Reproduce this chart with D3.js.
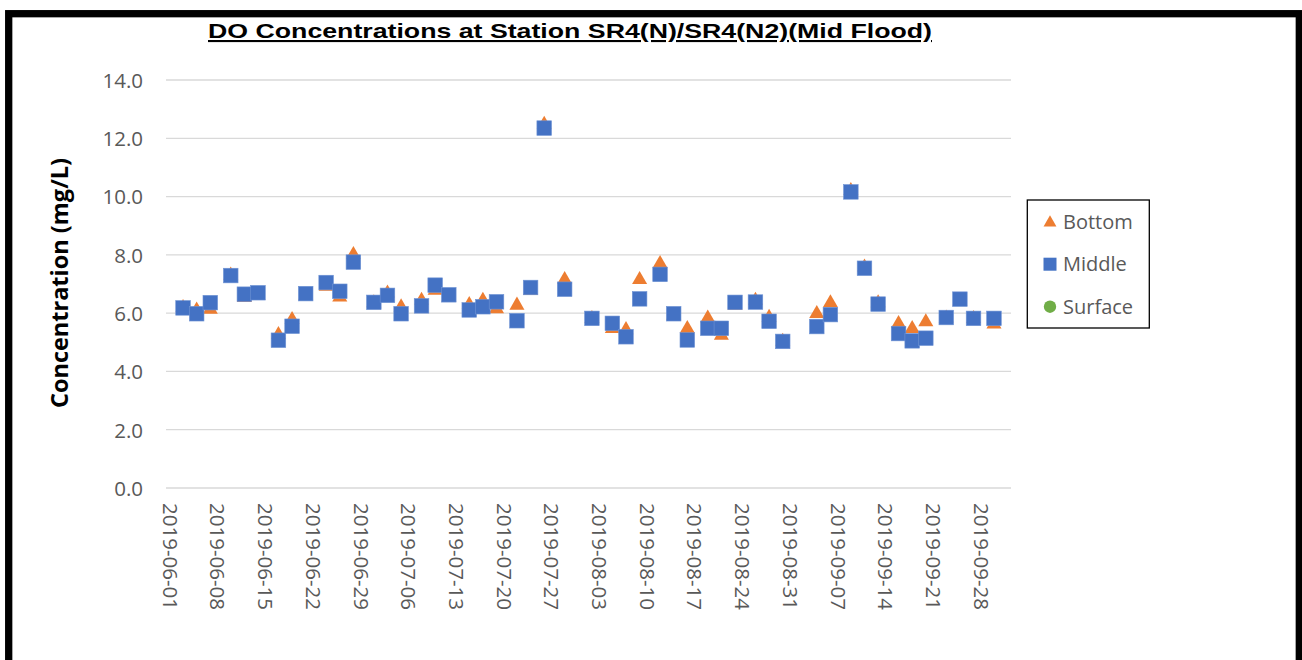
<!DOCTYPE html>
<html>
<head>
<meta charset="utf-8">
<script src="https://cdn.jsdelivr.net/npm/d3@7"></script>
<style>
  body { margin: 0; background: #fff; }
  svg { display: block; }
</style>
</head>
<body>
<div id="chart"></div>
<script>
'use strict';

var sampleDates = ['2019-06-03', '2019-06-05', '2019-06-07', '2019-06-10', '2019-06-12', '2019-06-14',
                   '2019-06-17', '2019-06-19', '2019-06-21', '2019-06-24', '2019-06-26', '2019-06-28',
                   '2019-07-01', '2019-07-03', '2019-07-05', '2019-07-08', '2019-07-10', '2019-07-12',
                   '2019-07-15', '2019-07-17', '2019-07-19', '2019-07-22', '2019-07-24', '2019-07-26',
                   '2019-07-29', '2019-08-02', '2019-08-05', '2019-08-07', '2019-08-09', '2019-08-12',
                   '2019-08-14', '2019-08-16', '2019-08-19', '2019-08-21', '2019-08-23', '2019-08-26',
                   '2019-08-28', '2019-08-30', '2019-09-04', '2019-09-06', '2019-09-09', '2019-09-11',
                   '2019-09-13', '2019-09-16', '2019-09-18', '2019-09-20', '2019-09-23', '2019-09-25',
                   '2019-09-27', '2019-09-30'];

var bottomValues = [6.23, 6.14, 6.17, 7.34, 6.57, 6.65, 5.30, 5.82, 6.65, 6.96, 6.59, 8.05,
                    6.39, 6.73, 6.25, 6.48, 6.82, 6.59, 6.33, 6.48, 6.19, 6.31, 6.82, 12.52,
                    7.19, 5.85, 5.51, 5.47, 7.19, 7.74, 5.96, 5.51, 5.87, 5.28, 6.31, 6.48,
                    5.89, 5.07, 6.02, 6.39, 10.24, 7.62, 6.39, 5.68, 5.51, 5.74, 5.87, 6.45,
                    5.85, 5.66];

var middleValues = [6.18, 5.98, 6.36, 7.29, 6.65, 6.70, 5.07, 5.55, 6.67, 7.05, 6.75, 7.75,
                    6.37, 6.61, 5.98, 6.25, 6.96, 6.63, 6.11, 6.22, 6.39, 5.74, 6.88, 12.35,
                    6.82, 5.82, 5.65, 5.19, 6.49, 7.33, 5.98, 5.08, 5.48, 5.48, 6.37, 6.38,
                    5.72, 5.03, 5.54, 5.95, 10.16, 7.54, 6.31, 5.30, 5.05, 5.14, 5.85, 6.48,
                    5.82, 5.82];

var surfaceValues = [];

var xTickLabels = ['2019-06-01', '2019-06-08', '2019-06-15', '2019-06-22', '2019-06-29', '2019-07-06',
                   '2019-07-13', '2019-07-20', '2019-07-27', '2019-08-03', '2019-08-10', '2019-08-17',
                   '2019-08-24', '2019-08-31', '2019-09-07', '2019-09-14', '2019-09-21', '2019-09-28'];

var yTicks = [0, 2, 4, 6, 8, 10, 12, 14];

var seriesNames = ['Bottom', 'Middle', 'Surface'];

var w = 1302;
var h = 660;
var plot = { left: 166, right: 1011, top: 80, bottom: 488 };

var parseDate = d3.utcParse('%Y-%m-%d');
var fontFamily = '"Open Sans", "Liberation Sans", sans-serif';
var labelColor = '#595959';
var colors = { Bottom: '#ED7D31', Middle: '#4472C4', Surface: '#70AD47' };

var svg = d3.select('#chart').append('svg')
  .attr('width', w)
  .attr('height', h);

/* Outer border */

svg.append('rect')
  .attr('x', 8.7)
  .attr('y', 13.7)
  .attr('width', 1290.6)
  .attr('height', 700)
  .style('fill', 'white')
  .style('stroke', 'black')
  .style('stroke-width', 7.3);

/* Scales */

var x = d3.scaleUtc()
  .domain([new Date(Date.UTC(2019, 4, 31, 12)), new Date(Date.UTC(2019, 9, 2, 12))])
  .range([plot.left, plot.right]);

var y = d3.scaleLinear()
  .domain([0, 14])
  .range([plot.bottom, plot.top]);

/* Gridlines */

svg.append('g')
  .selectAll('line')
  .data(yTicks)
  .enter()
  .append('line')
  .attr('x1', plot.left)
  .attr('x2', plot.right)
  .attr('y1', function (d) { return y(d); })
  .attr('y2', function (d) { return y(d); })
  .style('stroke', '#D9D9D9')
  .style('stroke-width', 1.3);

/* Y axis labels */

var yAxis = d3.axisLeft(y)
  .tickValues(yTicks)
  .tickSize(0)
  .tickPadding(23)
  .tickFormat(d3.format('.1f'));

var yAxisG = svg.append('g')
  .attr('transform', 'translate(' + plot.left + ',0)')
  .call(yAxis);

yAxisG.select('.domain').remove();
yAxisG.selectAll('text')
  .attr('font-family', fontFamily)
  .attr('font-size', '20.5px')
  .attr('fill', labelColor)
  .attr('dy', '0.36em');

/* X axis labels */

var xAxis = d3.axisBottom(x)
  .tickValues(xTickLabels.map(parseDate))
  .tickSize(0)
  .tickFormat(d3.utcFormat('%Y-%m-%d'));

var xAxisG = svg.append('g')
  .attr('transform', 'translate(0,' + plot.bottom + ')')
  .call(xAxis);

xAxisG.select('.domain').remove();
xAxisG.selectAll('text')
  .attr('font-family', fontFamily)
  .attr('font-size', '20.5px')
  .attr('fill', labelColor)
  .attr('y', 0)
  .attr('dy', '0.35em')
  .attr('text-anchor', 'start')
  .attr('transform', 'translate(0,15) rotate(90)');

/* Markers */

var triangle = d3.symbol().type(d3.symbolTriangle).size(98);

function rows(values) {
  return values.map(function (v, i) { return { date: parseDate(sampleDates[i]), value: v }; });
}

svg.append('g')
  .selectAll('path')
  .data(rows(bottomValues))
  .enter()
  .append('path')
  .attr('d', triangle)
  .attr('transform', function (d) { return 'translate(' + x(d.date) + ',' + (y(d.value) + 1.2) + ')'; })
  .style('fill', colors.Bottom);

svg.append('g')
  .selectAll('rect')
  .data(rows(middleValues))
  .enter()
  .append('rect')
  .attr('x', function (d) { return x(d.date) - 7.3; })
  .attr('y', function (d) { return y(d.value) - 7.3; })
  .attr('width', 14.6)
  .attr('height', 14.6)
  .style('fill', colors.Middle)
  .style('stroke', '#6F93D4')
  .style('stroke-width', 0.6);

svg.append('g')
  .selectAll('circle')
  .data(rows(surfaceValues))
  .enter()
  .append('circle')
  .attr('cx', function (d) { return x(d.date); })
  .attr('cy', function (d) { return y(d.value); })
  .attr('r', 6)
  .style('fill', colors.Surface);

/* Title */

svg.append('text')
  .text('DO Concentrations at Station SR4(N)/SR4(N2)(Mid Flood)')
  .attr('x', 570)
  .attr('y', 38)
  .attr('text-anchor', 'middle')
  .attr('font-family', '"Liberation Sans", Arial, sans-serif')
  .attr('font-weight', 'bold')
  .attr('font-size', '21px')
  .attr('text-decoration', 'underline')
  .attr('textLength', 724)
  .attr('lengthAdjust', 'spacingAndGlyphs')
  .attr('fill', 'black');

/* Y axis title */

svg.append('text')
  .text('Concentration (mg/L)')
  .attr('transform', 'translate(68,283) rotate(-90)')
  .attr('text-anchor', 'middle')
  .attr('font-family', fontFamily)
  .attr('font-weight', 'bold')
  .attr('font-size', '23.5px')
  .attr('fill', 'black');

/* Legend */

svg.append('rect')
  .attr('x', 1027.3)
  .attr('y', 200)
  .attr('width', 122)
  .attr('height', 128)
  .style('fill', 'white')
  .style('stroke', 'black')
  .style('stroke-width', 1.3);

var legendY = d3.scalePoint()
  .domain(seriesNames)
  .range([221.7, 306.7]);

var legend = svg.append('g')
  .selectAll('g')
  .data(seriesNames)
  .enter()
  .append('g')
  .attr('transform', function (d) { return 'translate(1050,' + legendY(d) + ')'; });

legend.each(function (d) {
  var g = d3.select(this);
  if (d === 'Bottom') {
    g.append('path')
      .attr('d', d3.symbol().type(d3.symbolTriangle).size(72))
      .attr('transform', 'translate(0,1)')
      .style('fill', colors.Bottom);
  } else if (d === 'Middle') {
    g.append('rect')
      .attr('x', -6.5).attr('y', -6.5)
      .attr('width', 13).attr('height', 13)
      .style('fill', colors.Middle);
  } else {
    g.append('circle')
      .attr('r', 6.2)
      .style('fill', colors.Surface);
  }
});

legend.append('text')
  .text(function (d) { return d; })
  .attr('x', 13)
  .attr('dy', '0.36em')
  .attr('font-family', fontFamily)
  .attr('font-size', '20px')
  .attr('fill', labelColor);

</script>
</body>
</html>
